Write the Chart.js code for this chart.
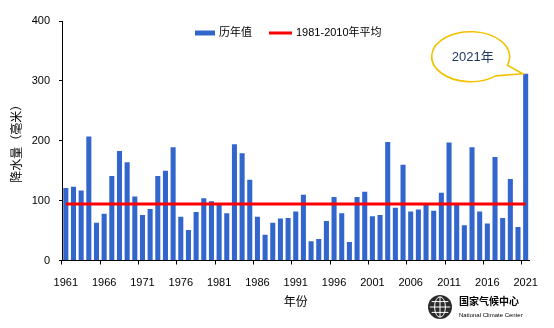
<!DOCTYPE html>
<html>
<head>
<meta charset="utf-8">
<script src="https://cdn.jsdelivr.net/npm/chart.js@4.4.1/dist/chart.umd.min.js"></script>
<style>
  html, body { margin: 0; padding: 0; background: #fff; }
  #wrap { width: 554px; height: 328px; }
</style>
</head>
<body>
<div id="wrap"><canvas id="chart" width="554" height="328"></canvas></div>
<script>
// yearly rainfall (mm)
const years = ['1961','1962','1963','1964','1965','1966','1967','1968','1969','1970',
  '1971','1972','1973','1974','1975','1976','1977','1978','1979','1980',
  '1981','1982','1983','1984','1985','1986','1987','1988','1989','1990',
  '1991','1992','1993','1994','1995','1996','1997','1998','1999','2000',
  '2001','2002','2003','2004','2005','2006','2007','2008','2009','2010',
  '2011','2012','2013','2014','2015','2016','2017','2018','2019','2020','2021'];
const rainfall = [121, 123, 117, 207, 63, 78, 141, 183, 164, 107,
  76, 86, 141, 150, 189, 73, 51, 81, 104, 99,
  93, 79, 194, 179, 135, 73, 43, 63, 70, 71,
  82, 110, 32, 36, 66, 106, 79, 31, 106, 115,
  74, 76, 198, 88, 160, 82, 85, 93, 83, 113,
  197, 93, 59, 189, 82, 62, 173, 71, 136, 56, 312];
const avgValue = 94.5;   // 1981-2010 mean
const tickYears = ['1961','1966','1971','1976','1981','1986','1991','1996','2001','2006','2011','2016','2021'];
const yTicks = [0, 100, 200, 300, 400];
const calloutYear = '2021';

const avgLine = years.map(() => avgValue);
const FONT = "'Liberation Sans', 'Noto Sans CJK SC', sans-serif";

// legend sits inside the plot, so draw it here from the datasets
const legendPlugin = {
  id: 'innerLegend',
  afterDatasetsDraw(chart) {
    const { ctx, chartArea } = chart;
    const ds = chart.data.datasets;
    ctx.save();
    ctx.font = "11px " + FONT;
    ctx.textBaseline = 'middle';
    ctx.textAlign = 'left';
    let x = chartArea.left + 133;
    const y = chartArea.top + 12;
    ds.forEach((d, i) => {
      const h = d.type === 'bar' ? 5 : 3;
      ctx.fillStyle = d.type === 'bar' ? d.backgroundColor : d.borderColor;
      ctx.fillRect(x, y - h / 2, i === 0 ? 20 : 23, h);
      x += (i === 0 ? 20 : 23) + 4;
      ctx.fillStyle = '#000';
      ctx.fillText(d.label, x, y);
      x += ctx.measureText(d.label).width + 17;
    });
    ctx.restore();
  }
};

const calloutPlugin = {
  id: 'callout',
  afterDatasetsDraw(chart) {
    const { ctx, scales: { x, y } } = chart;
    const i = years.indexOf(calloutYear);
    const bx = x.getPixelForValue(i);
    const by = y.getPixelForValue(rainfall[i]);
    const cx = bx - 55, cy = by - 17, rx = 39, ry = 25;
    ctx.save();
    ctx.beginPath();
    ctx.ellipse(cx, cy, rx, ry, 0, 50 * Math.PI / 180, (20 + 360) * Math.PI / 180);
    ctx.lineTo(bx - 3, by);
    ctx.closePath();
    ctx.fillStyle = '#fff';
    ctx.fill();
    ctx.strokeStyle = '#f2c200';
    ctx.lineWidth = 1.6;
    ctx.stroke();
    ctx.fillStyle = '#1f3864';
    ctx.font = "13px " + FONT;
    ctx.textAlign = 'center';
    ctx.textBaseline = 'middle';
    ctx.fillText(calloutYear + '年', cx + 2, cy + 1);
    ctx.restore();
  },
  afterDraw(chart) {
    // 国家气候中心 logo, bottom right
    const { ctx } = chart;
    ctx.save();
    const ex = 440, ey = 307, r = 12;
    ctx.beginPath();
    ctx.arc(ex, ey, r, 0, Math.PI * 2);
    ctx.fillStyle = '#2a2a2a';
    ctx.fill();
    ctx.strokeStyle = '#fff';
    ctx.lineWidth = 1;
    ctx.beginPath();
    ctx.ellipse(ex, ey, r * 0.45, r * 0.85, 0, 0, Math.PI * 2);
    ctx.moveTo(ex - r * 0.85, ey); ctx.lineTo(ex + r * 0.85, ey);
    ctx.moveTo(ex, ey - r * 0.85); ctx.lineTo(ex, ey + r * 0.85);
    ctx.moveTo(ex - r * 0.7, ey - r * 0.45); ctx.lineTo(ex + r * 0.7, ey - r * 0.45);
    ctx.moveTo(ex - r * 0.7, ey + r * 0.45); ctx.lineTo(ex + r * 0.7, ey + r * 0.45);
    ctx.stroke();
    ctx.fillStyle = '#000';
    ctx.textAlign = 'left';
    ctx.textBaseline = 'middle';
    ctx.font = "bold 10px 'Noto Sans CJK SC', sans-serif";
    ctx.fillText('国家气候中心', 459, 301);
    ctx.font = "6px " + FONT;
    ctx.fillText('National Climate Center', 459, 315);
    ctx.restore();
  }
};

new Chart(document.getElementById('chart'), {
  data: {
    labels: years,
    datasets: [
      {
        type: 'bar',
        label: '历年值',
        data: rainfall,
        backgroundColor: '#3366cc',
        borderWidth: 0,
        barPercentage: 0.66,
        categoryPercentage: 1.0,
        order: 1
      },
      {
        type: 'line',
        label: '1981-2010年平均',
        data: avgLine,
        borderColor: '#ff0000',
        backgroundColor: '#ff0000',
        borderWidth: 3,
        pointRadius: 0,
        order: 0
      }
    ]
  },
  options: {
    responsive: false,
    animation: false,
    layout: { padding: { left: 4, right: 24.5, top: 21, bottom: 18 } },
    plugins: {
      tooltip: { enabled: false },
      legend: { display: false }
    },
    scales: {
      x: {
        offset: true,
        afterFit: (s) => { s.height = 49.5; },
        grid: {
          offset: true,
          drawOnChartArea: false,
          tickLength: 4,
          color: (c) => (c.index % 5 === 0 ? '#000' : 'rgba(0,0,0,0)')
        },
        border: { display: true, color: '#000', width: 1, dash: [1, 2] },
        ticks: {
          autoSkip: false,
          maxRotation: 0,
          padding: 12,
          color: '#000',
          font: { size: 11, family: FONT },
          callback: function (v, i) { const lab = years[i]; return tickYears.includes(lab) ? lab : ''; }
        },
        title: {
          display: true,
          text: '年份',
          color: '#000',
          font: { size: 12, family: FONT },
          padding: { top: 0, bottom: 0 }
        }
      },
      y: {
        min: yTicks[0],
        max: yTicks[yTicks.length - 1],
        afterFit: (s) => { s.width = 58; },
        afterBuildTicks: (s) => { s.ticks = yTicks.map(v => ({ value: v })); },
        grid: { drawOnChartArea: false, tickLength: 3, color: '#000' },
        border: { display: true, color: '#000', width: 1, dash: [1, 2] },
        ticks: {
          padding: 9,
          color: '#000',
          font: { size: 11, family: FONT }
        },
        title: {
          display: true,
          text: '降水量（毫米）',
          color: '#000',
          font: { size: 12, family: FONT },
          padding: { top: 6, bottom: 0 }
        }
      }
    }
  },
  plugins: [legendPlugin, calloutPlugin]
});
</script>
</body>
</html>
